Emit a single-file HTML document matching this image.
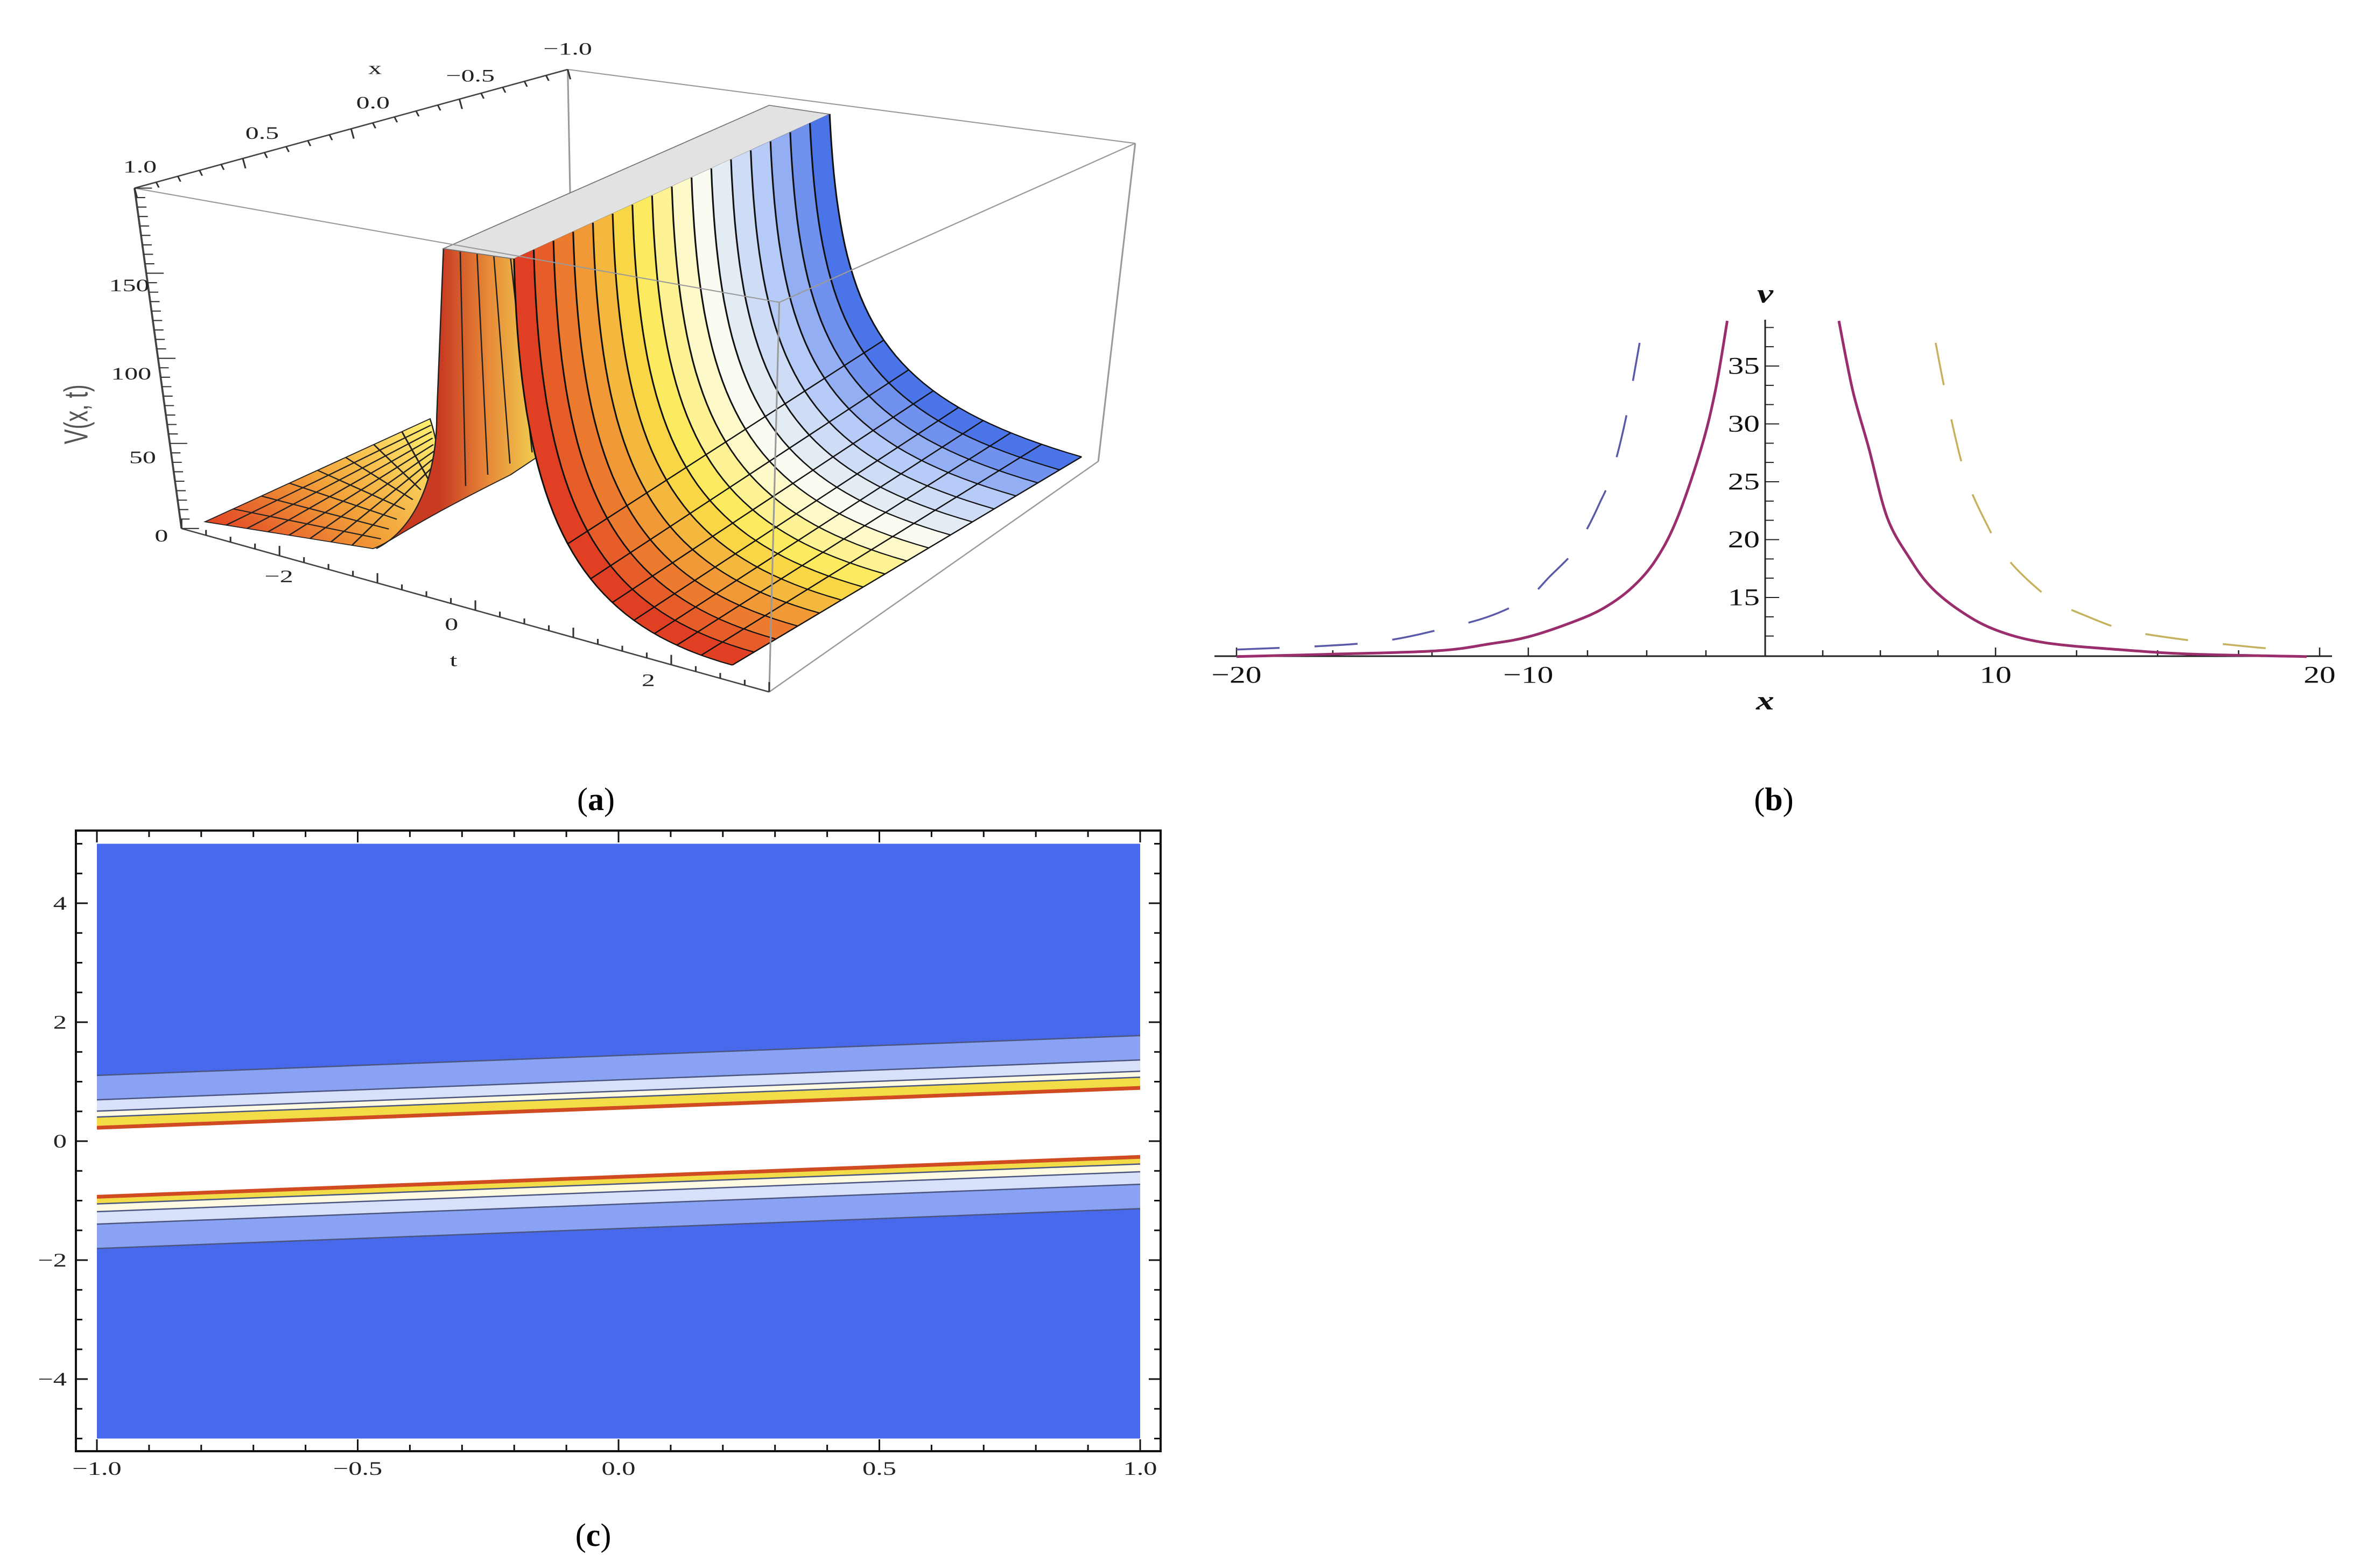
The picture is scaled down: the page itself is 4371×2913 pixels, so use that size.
<!DOCTYPE html>
<html><head><meta charset="utf-8"><style>
html,body{margin:0;padding:0;background:#fff;}
svg{display:block;}
</style></head><body>
<svg id="fig" width="4371" height="2913" viewBox="0 0 4371 2913" xmlns="http://www.w3.org/2000/svg" font-family="Liberation Serif, serif">
<rect width="4371" height="2913" fill="#fff"/>

<!-- ================= PANEL A (3D surface) ================= -->
<g id="panelA" transform="translate(200,50) scale(1.2476,0.832)">
  <g stroke="#9a9a9a" stroke-width="2.5" fill="none">
    <line x1="685" y1="95" x2="1530" y2="260"/>
    <line x1="685" y1="95" x2="695" y2="870"/>
    <line x1="1530" y1="260" x2="1475" y2="970"/>
    <line x1="1475" y1="970" x2="985" y2="1485"/>
  </g>
  <g id="surfA"></g>
  <g stroke="#9a9a9a" stroke-width="2.5" fill="none">
    <line x1="40" y1="360" x2="1000" y2="615"/>
    <line x1="1530" y1="260" x2="1000" y2="615"/>
    <line x1="1000" y1="615" x2="985" y2="1485"/>
  </g>
  <g stroke="#444" stroke-width="3" fill="none">
    <line x1="40" y1="360" x2="685" y2="95"/>
    <line x1="40" y1="360" x2="110" y2="1120"/>
    <line x1="110" y1="1120" x2="985" y2="1485"/>
  </g>
  <g id="ticksA" stroke="#333" stroke-width="2.5"></g>
  <g font-size="40" fill="#222">
    <text x="398" y="105" text-anchor="middle">x</text>
    <text x="685" y="62" text-anchor="middle">−1.0</text>
    <text x="540" y="122" text-anchor="middle">−0.5</text>
    <text x="395" y="182" text-anchor="middle">0.0</text>
    <text x="230" y="250" text-anchor="middle">0.5</text>
    <text x="48" y="325" text-anchor="middle">1.0</text>
    <text x="62" y="590" text-anchor="end">150</text>
    <text x="65" y="787" text-anchor="end">100</text>
    <text x="72" y="974" text-anchor="end">50</text>
    <text x="90" y="1149" text-anchor="end">0</text>
    <text x="255" y="1240" text-anchor="middle">−2</text>
    <text x="512" y="1347" text-anchor="middle">0</text>
    <text x="515" y="1427" text-anchor="middle">t</text>
    <text x="805" y="1472" text-anchor="middle">2</text>
    <text transform="translate(-30,865) rotate(-90)" text-anchor="middle" font-family="Liberation Sans, sans-serif" font-size="50" fill="#555">V(x, t)</text>
  </g>
</g>

<g id="panelB"></g>
<g id="panelC"></g>

<text x="1107" y="1505" font-size="60" text-anchor="middle">(<tspan font-weight="bold">a</tspan>)</text>
<text x="3295" y="1505" font-size="60" text-anchor="middle">(<tspan font-weight="bold">b</tspan>)</text>
<text x="1102" y="2872" font-size="60" text-anchor="middle">(<tspan font-weight="bold">c</tspan>)</text>
</svg>

<script>
var NS = 'http://www.w3.org/2000/svg';
function mk(tag, attrs, parent){ var e=document.createElementNS(NS,tag); for(var k in attrs) e.setAttribute(k,attrs[k]); if(parent) parent.appendChild(e); return e; }

/* ---------- Panel B data ---------- */
var solidLeftX  = [-20,-16.7,-13.1,-11.3,-10,-8.1,-6.8,-5.6,-4.6,-3.7,-2.7,-2.1,-1.6];
var solidLeftV  = [9.9,10.1,10.4,11,11.6,12.9,14.1,15.9,18.3,21.9,27.9,32.9,38.9];
var solidRightX = [3.2,3.8,4.5,5.3,6.3,7.2,8.5,10,11.5,13.8,16.1,19.6];
var solidRightV = [38.9,32.9,27.9,21.9,18.3,15.9,13.8,12.2,11.1,10.5,10.1,9.9];
var dashLeftX   = [-20,-15.4,-12.6,-11.2,-10,-9.1,-8.1,-7.5,-7.0,-6.5,-5.9,-5.3];
var dashLeftV   = [10.5,11.1,12.5,13.5,15,16.8,18.9,21,23.1,25.5,30.3,37];
var dashRightX  = [7.4,7.9,8.7,9.7,10.3,11.0,11.8,12.8,14.0,15.7,18.0,19.4];
var dashRightV  = [37,32,25.5,21,18.6,16.5,14.7,13.4,12.2,11.4,10.7,10.4];
var xTickLabels = [-20,-10,10,20];
var xMinorTicks = [-20,-16.7,-13.3,-10,-7.5,-5,-2.5,2.5,5,7.5,10,12.5,15,17.5,20];
var yTickLabels = [15,20,25,30,35];
var yMinorTicks = [11.67,13.33,15,16.67,18.33,20,21.67,23.33,25,26.67,28.33,30,31.67,33.33,35,36.67,38.33];

var bKnotsV = [-20,-10,0,10,20], bKnotsP = [2297,2839,3279,3707,4309];
function bx(v){ for(var i=0;i<bKnotsV.length-1;i++){ if(v<=bKnotsV[i+1]||i==bKnotsV.length-2){ var t=(v-bKnotsV[i])/(bKnotsV[i+1]-bKnotsV[i]); return bKnotsP[i]+t*(bKnotsP[i+1]-bKnotsP[i]); } } }
function by(v){ return 1110-(v-15)*21.5; }

function smoothPath(pts){
  var d='M'+pts[0][0].toFixed(1)+','+pts[0][1].toFixed(1);
  for(var i=0;i<pts.length-1;i++){
    var p0=pts[Math.max(i-1,0)],p1=pts[i],p2=pts[i+1],p3=pts[Math.min(i+2,pts.length-1)];
    var c1=[p1[0]+(p2[0]-p0[0])/6,p1[1]+(p2[1]-p0[1])/6], c2=[p2[0]-(p3[0]-p1[0])/6,p2[1]-(p3[1]-p1[1])/6];
    d+='C'+c1[0].toFixed(1)+','+c1[1].toFixed(1)+' '+c2[0].toFixed(1)+','+c2[1].toFixed(1)+' '+p2[0].toFixed(1)+','+p2[1].toFixed(1);
  }
  return d;
}

(function(){
  var g=document.getElementById('panelB');
  var base=by(9.93), ax=bx(0);
  var axes=mk('g',{stroke:'#222','stroke-width':3,fill:'none'},g);
  
  
  var xl=mk('line',{x1:2256,y1:base,x2:4332,y2:base},axes);
  
  
  var yl=mk('line',{x1:ax,y1:594,x2:ax,y2:base},axes);
  
  
  xMinorTicks.forEach(function(v){ var t=mk('line',{x1:bx(v),y1:base,x2:bx(v),y2:base-(xTickLabels.indexOf(v)>=0?16:11),'stroke-width':2.5},axes);
    
     });
  yMinorTicks.forEach(function(v){ var t=mk('line',{x1:ax,y1:by(v),x2:ax+(yTickLabels.indexOf(v)>=0?26:16),y2:by(v),'stroke-width':2},axes);
    
     });
  xTickLabels.forEach(function(v){ var t=mk('text',{transform:'translate('+bx(v)+',1268) scale(1.35,1)','text-anchor':'middle','font-size':44,fill:'#111'},g);
    t.textContent=(v<0?'\u2212':'')+Math.abs(v);
    
     });
  yTickLabels.forEach(function(v){ var t=mk('text',{transform:'translate('+(ax-10)+','+(by(v)+14)+') scale(1.35,1)','text-anchor':'end','font-size':44,fill:'#111'},g);
    t.textContent=v;
    
     });
  var vl=mk('text',{transform:'translate('+ax+',562) scale(1.35,1)','text-anchor':'middle','font-size':50,'font-style':'italic','font-weight':'bold',fill:'#111'},g);
  vl.textContent='v';
  
  
  var xt=mk('text',{transform:'translate('+ax+',1318) scale(1.35,1)','text-anchor':'middle','font-size':50,'font-style':'italic','font-weight':'bold',fill:'#111'},g);
  xt.textContent='x';
  
  
  function series(xs,vs,color,dash,name){
    var pts=xs.map(function(x,i){return [bx(x),by(vs[i])];});
    var p=mk('path',{d:smoothPath(pts),fill:'none',stroke:color,'stroke-width':dash?3.5:5,'stroke-dasharray':dash?'80 65':'none','stroke-linejoin':'round'},g);
    
    
  }
  series(dashLeftX,dashLeftV,'#5a5aa8',true,'dashed-series-left');
  series(dashRightX,dashRightV,'#c6b15e',true,'dashed-series-right');
  series(solidLeftX,solidLeftV,'#9a2d6c',false,'solid-series-left');
  series(solidRightX,solidRightV,'#9a2d6c',false,'solid-series-right');
})();

/* ---------- Panel C data ---------- */
var cXTicks = [-1.0,-0.5,0.0,0.5,1.0];
var cYTicks = [-4,-2,0,2,4];
var contourSlope = 0.335;
var upperEdges = [1.44,1.03,0.84,0.74,0.56];
var lowerEdges = [-0.60,-0.72,-0.85,-1.06,-1.47];
var upperFills = ['#4869ec','#8aa2f3','#d9e1fa','#fffbe2','#f2dc48'];
var lowerFills = ['#f2dc48','#fffbe2','#d9e1fa','#8aa2f3','#4869ec'];

function cx(x){ return 180+(x+1)/2*(2118-180); }
function cy(t){ return 2120-t*110.5; }

(function(){
  var g=document.getElementById('panelC');
  var bg=mk('rect',{x:180,y:cy(5),width:cx(1)-cx(-1),height:cy(-5)-cy(5),fill:'#fff'},g);
  
  
  function edgeY(c,x){ return cy(c+contourSlope*x); }
  function band(topFn,botFn,fill,name){
    var d='M'+cx(-1)+','+topFn(-1)+'L'+cx(1)+','+topFn(1)+'L'+cx(1)+','+botFn(1)+'L'+cx(-1)+','+botFn(-1)+'Z';
    var p=mk('path',{d:d,fill:fill},g);
    
    
  }
  var prev=function(){return cy(5);};
  upperEdges.forEach(function(c,i){ var top=prev; var bot=function(x){return edgeY(c,x);}; band(top,bot,upperFills[i],'contour-band-upper'); prev=bot; });
  lowerEdges.forEach(function(c,i){
    var top=function(x){return edgeY(c,x);};
    var nxt=lowerEdges[i+1];
    var bot= nxt===undefined?function(){return cy(-5);}:function(x){return edgeY(nxt,x);};
    band(top,bot,lowerFills[i],'contour-band-lower'); });
  upperEdges.concat(lowerEdges).forEach(function(c){
    var red=(c===upperEdges[4]||c===lowerEdges[0]);
    var l=mk('line',{x1:cx(-1),y1:edgeY(c,-1),x2:cx(1),y2:edgeY(c,1),stroke:red?'#d04a22':'#4a5580','stroke-width':red?7:2.5},g);
    
    
  });
  var fr=mk('rect',{x:141,y:1543,width:2156-141,height:2696-1543,fill:'none',stroke:'#111','stroke-width':4},g);
  
  
  var tk=mk('g',{stroke:'#111','stroke-width':3},g);
  
  
  for(var i=0;i<=20;i++){ var x=-1+i*0.1, L=(i%5==0)?22:12;
    mk('line',{x1:cx(x),y1:2696,x2:cx(x),y2:2696-L},tk); mk('line',{x1:cx(x),y1:1543,x2:cx(x),y2:1543+L},tk); }
  for(var j=0;j<=20;j++){ var t=-5+j*0.5, L2=(j%4==2)?22:12;
    mk('line',{x1:141,y1:cy(t),x2:141+L2,y2:cy(t)},tk); mk('line',{x1:2156,y1:cy(t),x2:2156-L2,y2:cy(t)},tk); }
  cXTicks.forEach(function(v){ var t=mk('text',{transform:'translate('+cx(v)+',2740) scale(1.4,1)','text-anchor':'middle','font-size':36,fill:'#222'},g);
    t.textContent=(v<0?'\u2212':'')+Math.abs(v).toFixed(1);
    
     });
  cYTicks.forEach(function(v){ var t=mk('text',{transform:'translate(124,'+(cy(v)+12)+') scale(1.4,1)','text-anchor':'end','font-size':36,fill:'#222'},g);
    t.textContent=(v<0?'\u2212':'')+Math.abs(v);
    
     });
})();

/* ---------- Panel A surface ---------- */
(function(){
  var g=document.getElementById('surfA');
  function bez(p0,p1,p2,p3,s){ var u=1-s; return [u*u*u*p0[0]+3*u*u*s*p1[0]+3*u*s*s*p2[0]+s*s*s*p3[0], u*u*u*p0[1]+3*u*u*s*p1[1]+3*u*s*s*p2[1]+s*s*s*p3[1]]; }
  var defs=mk('defs',{},g);
  defs.innerHTML='<linearGradient id="gLF" x1="145" y1="1140" x2="480" y2="880" gradientUnits="userSpaceOnUse"><stop offset="0" stop-color="#e03a22"/><stop offset="0.5" stop-color="#f2a23a"/><stop offset="1" stop-color="#fff070"/></linearGradient><linearGradient id="gLW" x1="495" y1="0" x2="640" y2="0" gradientUnits="userSpaceOnUse"><stop offset="0" stop-color="#c83a22"/><stop offset="0.5" stop-color="#e88a38"/><stop offset="1" stop-color="#f0d050"/></linearGradient>';
  // left floor: bilinear patch
  var A00=[145,1105], A10=[395,1165], A01=[480,875], A11=[490,990];
  function LF(u,v){ var a=[A00[0]+u*(A10[0]-A00[0]),A00[1]+u*(A10[1]-A00[1])], b=[A01[0]+u*(A11[0]-A01[0]),A01[1]+u*(A11[1]-A01[1])]; return [a[0]+v*(b[0]-a[0]),a[1]+v*(b[1]-a[1])]; }
  var floorL=mk('path',{d:'M145,1105 L480,875 C492,930 495,980 490,990 C470,1080 440,1140 395,1165 Z',fill:'url(#gLF)',stroke:'#222','stroke-width':2},g);
  
  
  for(var k=1;k<8;k++){ var f=k/8, a=LF(f,0), b=LF(f,1), c=LF(0,f), d=LF(1,f);
    mk('line',{x1:a[0],y1:a[1],x2:b[0],y2:b[1],stroke:'#222','stroke-width':2.5},g);
    mk('line',{x1:c[0],y1:c[1],x2:d[0],y2:d[1],stroke:'#222','stroke-width':2.5},g); }
  var wall=mk('path',{d:'M500,495 L605,518 L640,960 L600,1000 C520,1060 470,1100 400,1165 C460,1120 490,1000 490,870 Z',fill:'url(#gLW)',stroke:'#222','stroke-width':2},g);
  
  
  for(var w=1;w<5;w++){ var xx=500+w*25; mk('line',{x1:xx,y1:497+w*5,x2:xx+8*w,y2:1050-w*25,stroke:'#222','stroke-width':2},g); }
  var top=mk('path',{d:'M500,495 L985,175 L1075,195 L605,518 Z',fill:'#e2e2e2',stroke:'#777','stroke-width':2},g);
  
  
  var F=[[605,518],[615,1100],[700,1330],[930,1425]];
  var B=[[1075,195],[1090,650],[1150,830],[1450,960]];
  var cols=[[221,48,32],[240,144,53],[251,232,74],[255,255,240],[184,204,248],[58,102,230]];
  var stops=[0,0.2,0.38,0.58,0.78,1];
  function col(f){ for(var i=0;i<stops.length-1;i++){ if(f<=stops[i+1]){ var t=(f-stops[i])/(stops[i+1]-stops[i]); var c=cols[i].map(function(a,j){return Math.round(a+t*(cols[i+1][j]-a));}); return 'rgb('+c.join(',')+')'; } } return 'rgb(58,102,230)'; }
  var NF=16, NS2=40;
  function P(f,s){ var a=bez(F[0],F[1],F[2],F[3],s), b=bez(B[0],B[1],B[2],B[3],s); return [a[0]+f*(b[0]-a[0]), a[1]+f*(b[1]-a[1])]; }
  for(var i=0;i<NF;i++){ var f0=i/NF, f1=(i+1)/NF, pts=[];
    for(var s=0;s<=NS2;s++) pts.push(P(f0,s/NS2));
    for(var s2=NS2;s2>=0;s2--) pts.push(P(f1,s2/NS2));
    var strip=mk('path',{d:'M'+pts.map(function(p){return p[0].toFixed(1)+','+p[1].toFixed(1);}).join('L')+'Z',fill:col((f0+f1)/2),stroke:col((f0+f1)/2),'stroke-width':1},g);
    
     }
  for(var i2=0;i2<=NF;i2++){ var pts2=[]; for(var s3=0;s3<=NS2;s3++) pts2.push(P(i2/NF,s3/NS2));
    mk('path',{d:'M'+pts2.map(function(p){return p[0].toFixed(1)+','+p[1].toFixed(1);}).join('L'),fill:'none',stroke:'#111','stroke-width':2.5},g); }
  [0.5,0.6,0.68,0.75,0.81,0.87,0.93,1].forEach(function(s){ var a=P(0,s), b=P(1,s);
    mk('line',{x1:a[0],y1:a[1],x2:b[0],y2:b[1],stroke:'#111','stroke-width':2.5},g); });
  var tg=document.getElementById('ticksA');
  for(var q=0;q<=20;q++){ var f=q/20; var x=40+f*(685-40), y=360+f*(95-360); mk('line',{x1:x,y1:y,x2:x+4,y2:y+(q%5==0?22:12)},tg); }
  for(var r=0;r<=36;r++){ var f=r/36; var x=40+f*(110-40), y=360+f*(1120-360); mk('line',{x1:x,y1:y,x2:x+(r%9==0?26:14),y2:y},tg); }
  for(var u=0;u<=24;u++){ var f=u/24; var x=110+f*(985-110), y=1120+f*(1485-1120); mk('line',{x1:x,y1:y,x2:x,y2:y-(u%4==0?22:12)},tg); }
})();
</script>
</body></html>
